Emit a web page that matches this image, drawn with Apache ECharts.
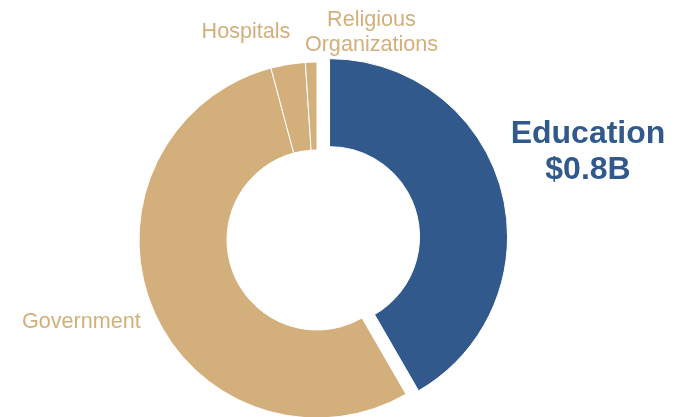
<!DOCTYPE html>
<html>
<head>
<meta charset="utf-8">
<style>
  html, body { margin: 0; padding: 0; background: #ffffff; }
  #chart { width: 683px; height: 417px; }
</style>
<script src="https://cdn.jsdelivr.net/npm/echarts@6/dist/echarts.min.js"></script>
</head>
<body>
<div id="chart"></div>
<script>
// Spending by sector, in billions of dollars
const categories = ['Education', 'Government', 'Hospitals', 'Religious\nOrganizations'];
const values = [0.8, 1.04, 0.06, 0.02];

const BLUE = '#31598b';
const TAN = '#d3af7c';
const FONT = '"Liberation Sans", Arial, sans-serif';

// Where the smaller sectors' labels sit on the canvas
const labelSpots = [
  null,
  { x: 22, y: 322, align: 'left' },
  { x: 246, y: 32.5, align: 'center' },
  { x: 371.5, y: 33, align: 'center' }
];

const pieData = categories.map((name, i) => {
  const isEdu = i === 0;
  const color = isEdu ? BLUE : TAN;
  return {
    name: name,
    value: values[i],
    selected: isEdu,
    itemStyle: { color: color },
    select: { itemStyle: { color: color } },
    // the pulled-out sector is labelled by the callout text below
    label: { show: !isEdu }
  };
});

const chart = echarts.init(document.getElementById('chart'), null, { renderer: 'canvas' });
chart.setOption({
  animation: false,
  // callout for the highlighted sector
  title: {
    text: categories[0] + '\n$' + values[0].toFixed(1) + 'B',
    left: 588,
    top: 116,
    padding: 0,
    textAlign: 'center',
    textVerticalAlign: 'top',
    textStyle: {
      color: BLUE,
      fontFamily: FONT,
      fontSize: 32,
      fontWeight: 'bold',
      lineHeight: 36
    }
  },
  series: [{
    type: 'pie',
    center: [317, 240],
    radius: [90, 178],
    startAngle: 90,
    clockwise: true,
    selectedMode: 'single',
    selectedOffset: 13,
    avoidLabelOverlap: false,
    itemStyle: { borderColor: '#ffffff', borderWidth: 1 },
    emphasis: { disabled: true },
    label: {
      position: 'outside',
      color: TAN,
      fontFamily: FONT,
      fontSize: 21.6,
      lineHeight: 25,
      formatter: '{b}'
    },
    labelLine: { show: false },
    labelLayout: function (params) {
      const s = labelSpots[params.dataIndex];
      if (!s) return {};
      return { x: s.x, y: s.y, align: s.align, verticalAlign: 'middle' };
    },
    data: pieData
  }]
});
</script>
</body>
</html>
